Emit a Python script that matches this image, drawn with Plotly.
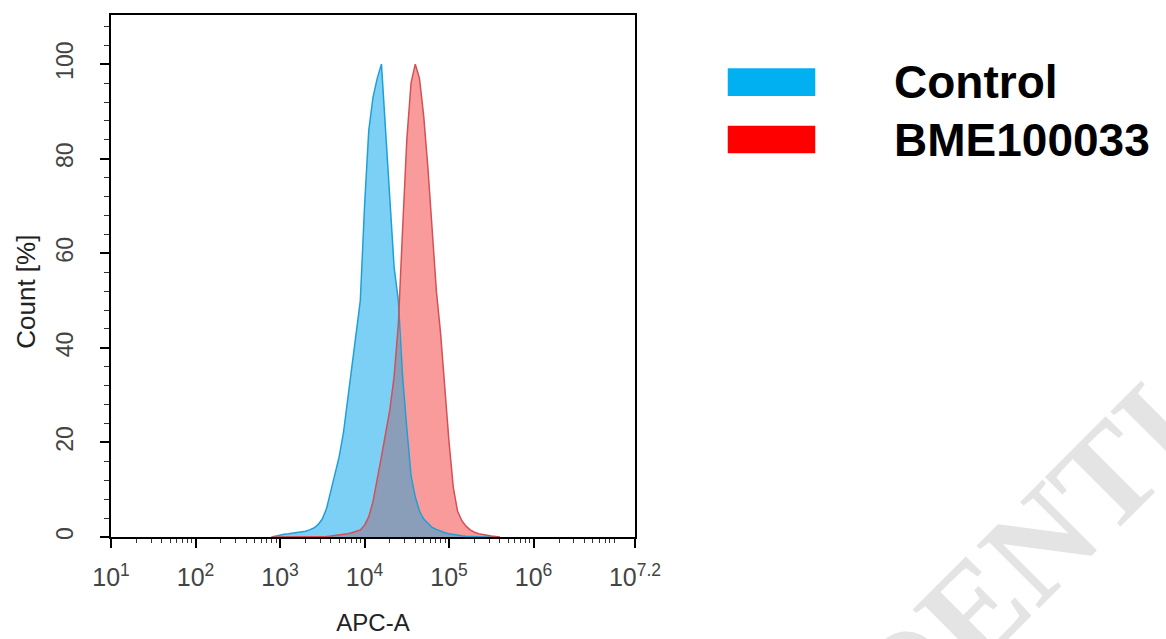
import plotly.graph_objects as go

# log10(APC-A) bin positions shared by both histograms
bin_log = [2.90, 2.95, 3.00, 3.05, 3.10, 3.15, 3.20, 3.25, 3.30, 3.35,
           3.40, 3.45, 3.50, 3.55, 3.60, 3.65, 3.70, 3.75, 3.80, 3.85,
           3.90, 3.95, 4.00, 4.05, 4.10, 4.15, 4.20, 4.25, 4.30, 4.35,
           4.40, 4.45, 4.50, 4.55, 4.60, 4.65, 4.70, 4.75, 4.80, 4.85,
           4.90, 4.95, 5.00, 5.05, 5.10, 5.15, 5.20, 5.25, 5.30, 5.35,
           5.40, 5.45, 5.50, 5.55, 5.60]

# Count [%]
control = [0.0, 0.2, 0.5, 0.6, 0.7, 0.8, 0.9, 1.0, 1.2, 1.5,
           1.9, 2.6, 3.8, 6.0, 9.5, 13, 17, 22, 29, 36,
           42, 50, 70, 86, 93, 97, 100, 86, 71, 57,
           50, 34, 23, 13, 8.5, 5.5, 3.8, 2.8, 2.0, 1.6,
           1.2, 0.9, 0.7, 0.5, 0.35, 0.25, 0.15, 0.1, 0, 0,
           0, 0, 0, 0, 0]

bme100033 = [0, 0, 0, 0, 0, 0, 0, 0, 0, 0,
             0, 0, 0, 0.1, 0.2, 0.3, 0.4, 0.5, 0.7, 0.9,
             1.2, 1.5, 2.5, 4.3, 7.5, 12, 17, 22, 27, 34,
             45, 65, 84, 96, 100, 97, 89, 78, 66, 52,
             43, 31, 20, 10.5, 5.5, 3.5, 2.3, 1.5, 1.0, 0.7,
             0.5, 0.3, 0.2, 0.1, 0]

series_names = ["Control", "BME100033"]
x_tick_exp = [1, 2, 3, 4, 5, 6, 7.2]
x_tick_text = ["10<sup>1</sup>", "10<sup>2</sup>", "10<sup>3</sup>", "10<sup>4</sup>",
               "10<sup>5</sup>", "10<sup>6</sup>", "10<sup>7.2</sup>"]

x_vals = [10 ** e for e in bin_log]
overlap = [min(a, b) for a, b in zip(control, bme100033)]

BLUE_FILL = "rgb(125,208,245)"
BLUE_LINE = "rgb(30,160,215)"
RED_FILL = "rgb(250,155,155)"
RED_LINE = "rgb(212,80,85)"
MIX_FILL = "rgb(138,158,186)"

fig = go.Figure()

# Fills
for ys, col in [(control, BLUE_FILL), (bme100033, RED_FILL), (overlap, MIX_FILL)]:
    fig.add_trace(go.Scatter(x=x_vals, y=ys, mode="lines", line=dict(width=0),
                             fill="tozeroy", fillcolor=col, showlegend=False, hoverinfo="skip"))

# Outlines
fig.add_trace(go.Scatter(x=x_vals, y=control, mode="lines", name=series_names[0],
                         line=dict(color=BLUE_LINE, width=1.5), showlegend=False))
fig.add_trace(go.Scatter(x=x_vals, y=bme100033, mode="lines", name=series_names[1],
                         line=dict(color=RED_LINE, width=1.5), showlegend=False))

# Minor ticks on the log axis (2..9 in each decade)
x_minor = [m * 10 ** d for d in range(1, 7) for m in range(2, 10) if m * 10 ** d < 10 ** 7.2]

# Custom legend: colour bars + bold labels
legend_y = [(0.845, 0.898), (0.735, 0.788)]
for (y0, y1), col, name, ty in zip(legend_y, ["rgb(0,176,240)", "rgb(255,0,0)"], series_names,
                                   [0.872, 0.760]):
    fig.add_shape(type="rect", xref="paper", yref="paper", x0=1.177, x1=1.344, y0=y0, y1=y1,
                  fillcolor=col, line=dict(width=0))
    fig.add_annotation(xref="paper", yref="paper", x=1.49, y=ty, text=f"<b>{name}</b>",
                       showarrow=False, xanchor="left", yanchor="middle",
                       font=dict(family="Liberation Sans, Arial", size=46, color="black"))

# y-axis title (sits a little below the axis centre in the original)
fig.add_annotation(xref="paper", yref="paper", x=-0.162, y=0.47, text="Count [%]",
                   showarrow=False, textangle=-90, xanchor="center", yanchor="middle",
                   font=dict(family="Liberation Sans, Arial", size=26, color="#222222"))

# Watermark
fig.add_annotation(xref="paper", yref="paper", x=1.575, y=-0.21, text="<b>CONFIDENTIAL</b>",
                   showarrow=False, textangle=-45, xanchor="center", yanchor="middle",
                   font=dict(family="Liberation Serif, Times New Roman", size=135,
                             color="rgb(228,228,228)"))

fig.update_layout(
    width=1166, height=639,
    margin=dict(l=111, r=531, t=15, b=102),
    plot_bgcolor="white", paper_bgcolor="white",
    font=dict(family="Liberation Sans, Arial", size=16, color="#333333"),
    xaxis=dict(
        type="log", range=[1, 7.2],
        tickmode="array", tickvals=[10 ** e for e in x_tick_exp], ticktext=x_tick_text,
        ticks="outside", ticklen=9, tickwidth=1.5, tickcolor="black",
        minor=dict(tickmode="array", tickvals=x_minor, ticks="outside", ticklen=4,
                   tickwidth=1, tickcolor="#333333"),
        showline=True, linecolor="black", linewidth=2, mirror=True,
        showgrid=False, zeroline=False, automargin=False,
        ticklabelstandoff=8,
        title=dict(text="APC-A", standoff=24, font=dict(size=24, color="#222222")),
        tickfont=dict(size=25, color="#444444"),
    ),
    yaxis=dict(
        range=[0, 110.4],
        tickmode="array", tickvals=[0, 20, 40, 60, 80, 100],
        ticks="outside", ticklen=9, tickwidth=1.5, tickcolor="black",
        minor=dict(dtick=4, ticks="outside", ticklen=5, tickwidth=1, tickcolor="#333333"),
        tickangle=-90,
        showline=True, linecolor="black", linewidth=2, mirror=True,
        showgrid=False, zeroline=False, automargin=False,
        ticklabelstandoff=18,
        tickfont=dict(size=23, color="#444444"),
    ),
)

fig.write_html("out.html", config={"displayModeBar": False},
               post_script="document.body.style.margin='0px';")
